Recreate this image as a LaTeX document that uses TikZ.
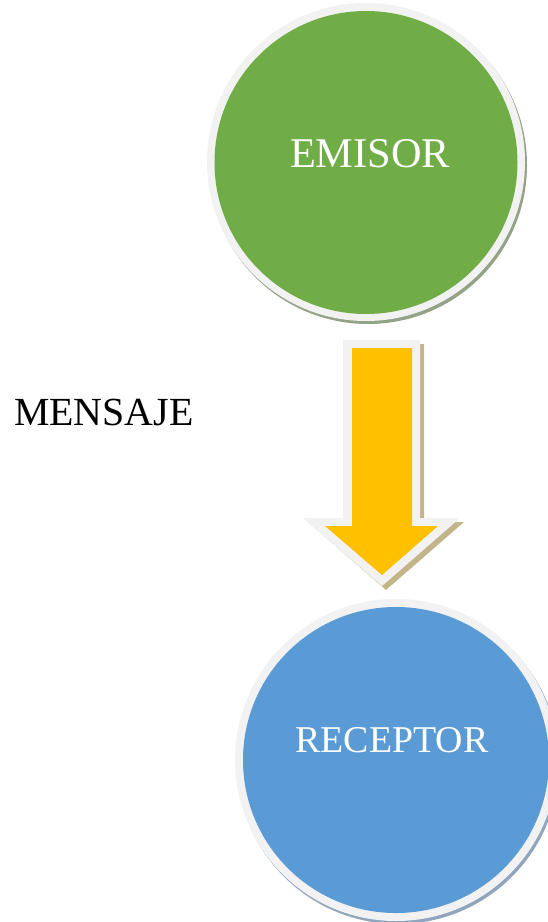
\documentclass[tikz,border=0pt]{standalone}
\usepackage{fontspec}
\setmainfont{Liberation Serif}
\definecolor{ringgray}{HTML}{F2F2F2}
\definecolor{emgreen}{HTML}{70AD47}
\definecolor{recblue}{HTML}{5B9BD5}
\definecolor{arryellow}{HTML}{FFC000}
\definecolor{greenshadow}{HTML}{94A386}
\definecolor{blueshadow}{HTML}{8FA6BE}
\definecolor{tanshadow}{HTML}{C4B48A}
\tikzset{
  lbl/.style={inner sep=0pt, anchor=base, font=\fontsize{40}{48}\selectfont},
}
\begin{document}
\begin{tikzpicture}[x=1bp,y=-1bp]
\useasboundingbox (0,0) rectangle (548,922);
% EMISOR
\fill[greenshadow] (368,165) circle (159);
\fill[ringgray] (366,162) circle (159);
\fill[emgreen] (366,162.5) circle (151.5);
\node[lbl, font=\fontsize{42.5}{50}\selectfont, text=white] (em) at (370,167) {EMISOR};
% Arrow
\fill[tanshadow] (347,344) -- (424,344) -- (424,522) -- (464,522) -- (386,590) -- (308,522) -- (347,522) -- cycle;
\fill[ringgray] (343,340) -- (420,340) -- (420,518) -- (460,518) -- (382,586) -- (303,518) -- (343,518) -- cycle;
\fill[arryellow] (352,348) -- (412,348) -- (412,526) -- (438,526) -- (382,575) -- (325,526) -- (352,526) -- cycle;
% MENSAJE
\node[lbl, anchor=base west, text=black] (msg) at (14,425) {MENSAJE};
% RECEPTOR
\fill[blueshadow] (398,763) circle (161);
\fill[ringgray] (396,760) circle (161);
\fill[recblue] (396,760) circle (153);
\node[lbl, font=\fontsize{38}{46}\selectfont, text=white] (rec) at (392,752) {RECEPTOR};
\end{tikzpicture}
\end{document}
